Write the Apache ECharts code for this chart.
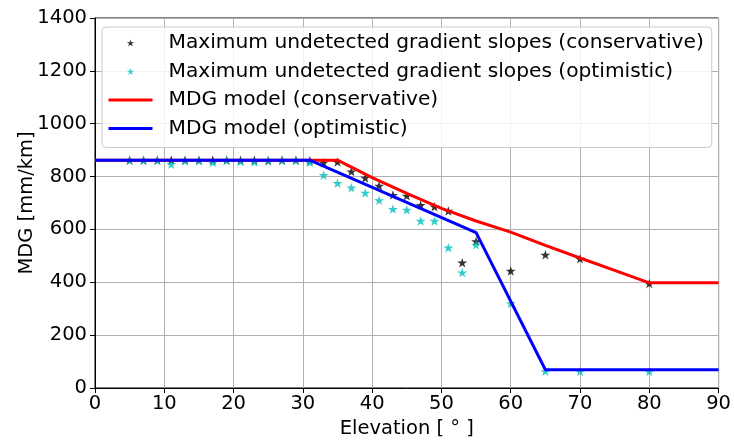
<!DOCTYPE html>
<html>
<head>
<meta charset="utf-8">
<script src="https://cdn.jsdelivr.net/npm/echarts@6/dist/echarts.min.js"></script>
<style>
  html, body { margin: 0; padding: 0; background: #fff; }
  #chart { width: 734px; height: 444px; }
</style>
</head>
<body>
<div id="chart"></div>
<script>
// Elevation angles (degrees) of the measured slopes
const elevations = [5, 7, 9, 11, 13, 15, 17, 19, 21, 23, 25, 27, 29, 31, 33, 35, 37, 39,
                    41, 43, 45, 47, 49, 51, 53, 55, 60, 65, 70, 80];
// Maximum undetected gradient slopes [mm/km]
const slopesConservative = [862, 862, 862, 862, 862, 862, 862, 862, 862, 862, 860, 862, 862, 860,
                            853, 855, 819, 795, 765, 730, 727, 692, 686, 670, 474, 555, 443, 504, 489, 395];
const slopesOptimistic = [862, 862, 862, 847, 860, 860, 853, 862, 857, 855, 862, 862, 862, 853,
                          805, 775, 758, 738, 710, 677, 674, 632, 632, 531, 437, 542, 320, 63, 62, 62];
// MDG model breakpoints
const modelConsElev = [0, 35, 40, 45, 50, 55, 60, 65, 70, 75, 80, 90];
const modelConsMdg  = [862, 862, 796, 736, 680, 632, 590, 540, 492, 445, 398, 398];
const modelOptElev  = [0, 31, 55, 65, 90];
const modelOptMdg   = [862, 862, 588, 69, 69];
// Axis ticks
const xTicks = { min: 0, max: 90, step: 10 };
const yTicks = { min: 0, max: 1400, step: 200 };

const pairs = (xs, ys) => xs.map((x, i) => [x, ys[i]]);

const STAR = 'path://M50,0L61.2,34.5L97.6,34.5L68.2,55.9L79.4,90.5L50,69.1L20.6,90.5L31.8,55.9L2.4,34.5L38.8,34.5Z';
const FONT = 'DejaVu Sans';
const FS = 19.5;

const chart = echarts.init(document.getElementById('chart'), null, { renderer: 'canvas' });

chart.setOption({
  animation: false,
  backgroundColor: '#ffffff',
  textStyle: { fontFamily: FONT, color: '#000' },
  grid: {
    left: 95, right: 12, top: 18, bottom: 54,
    show: true, borderColor: '#000', borderWidth: 1, backgroundColor: 'transparent'
  },
  xAxis: {
    type: 'value',
    min: xTicks.min, max: xTicks.max, interval: xTicks.step,
    name: 'Elevation [ ° ]',
    nameLocation: 'middle',
    nameGap: 31,
    nameMoveOverlap: false,
    nameTextStyle: { fontSize: FS, color: '#000', fontFamily: FONT },
    axisLine: { show: true, onZero: false, lineStyle: { color: '#000', width: 1 } },
    axisTick: { show: true, length: 5, lineStyle: { color: '#000' } },
    axisLabel: { fontSize: FS, color: '#000', margin: 6, fontFamily: FONT },
    splitLine: { show: true, lineStyle: { color: '#b0b0b0', width: 1 } }
  },
  yAxis: {
    type: 'value',
    min: yTicks.min, max: yTicks.max, interval: yTicks.step,
    name: 'MDG [mm/km]',
    nameLocation: 'middle',
    nameGap: 58,
    nameRotate: 90,
    nameMoveOverlap: false,
    nameTextStyle: { fontSize: FS, color: '#000', fontFamily: FONT },
    axisLine: { show: true, onZero: false, lineStyle: { color: '#000', width: 1 } },
    axisTick: { show: true, length: 5, lineStyle: { color: '#000' } },
    axisLabel: { fontSize: FS, color: '#000', margin: 8, fontFamily: FONT,
                 formatter: v => String(v) },
    splitLine: { show: true, lineStyle: { color: '#b0b0b0', width: 1 } }
  },
  legend: {
    orient: 'vertical',
    left: 102, top: 27,
    padding: [6, 8, 9, 5],
    itemWidth: 44, itemHeight: 7, itemGap: 8.5,
    backgroundColor: 'rgba(255,255,255,0.85)',
    borderColor: '#cccccc', borderWidth: 1, borderRadius: 4,
    textStyle: { fontSize: 20.2, color: '#000', fontFamily: FONT, padding: [0, 0, 0, 11] },
    data: [
      { name: 'Maximum undetected gradient slopes (conservative)' },
      { name: 'Maximum undetected gradient slopes (optimistic)' },
      { name: 'MDG model (conservative)', itemStyle: { opacity: 0 }, lineStyle: { width: 3 } },
      { name: 'MDG model (optimistic)', itemStyle: { opacity: 0 }, lineStyle: { width: 3 } }
    ]
  },
  series: [
    {
      name: 'Maximum undetected gradient slopes (conservative)',
      type: 'scatter',
      symbol: STAR, symbolSize: 10, symbolKeepAspect: true,
      itemStyle: { color: '#000000' },
      data: pairs(elevations, slopesConservative),
      z: 2
    },
    {
      name: 'Maximum undetected gradient slopes (optimistic)',
      type: 'scatter',
      symbol: STAR, symbolSize: 10, symbolKeepAspect: true,
      itemStyle: { color: '#00bfbf' },
      data: pairs(elevations, slopesOptimistic),
      z: 2
    },
    {
      name: 'MDG model (conservative)',
      type: 'line',
      showSymbol: false, symbol: 'none',
      lineStyle: { color: '#ff0000', width: 3 },
      itemStyle: { color: '#ff0000' },
      data: pairs(modelConsElev, modelConsMdg),
      z: 3
    },
    {
      name: 'MDG model (optimistic)',
      type: 'line',
      showSymbol: false, symbol: 'none',
      lineStyle: { color: '#0000ff', width: 3 },
      itemStyle: { color: '#0000ff' },
      data: pairs(modelOptElev, modelOptMdg),
      z: 4
    }
  ]
});
</script>
</body>
</html>
